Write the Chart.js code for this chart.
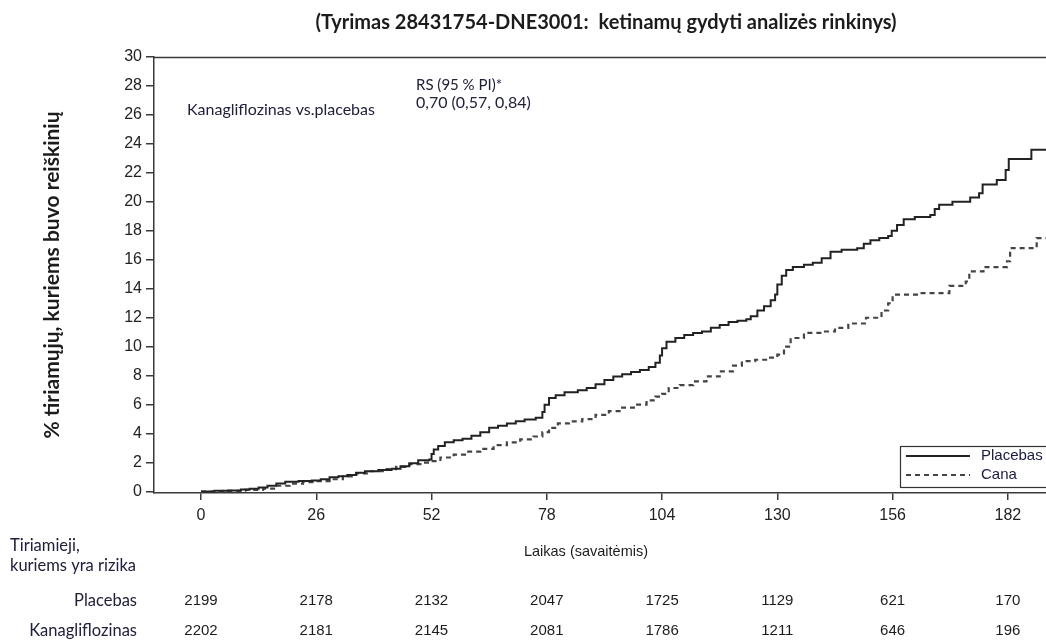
<!DOCTYPE html>
<html lang="lt">
<head>
<meta charset="utf-8">
<script src="https://cdn.jsdelivr.net/npm/chart.js@4"></script>
<style>
  html, body { margin: 0; padding: 0; background: #ffffff; }
  #wrap { width: 1046px; height: 641px; position: relative; }
  canvas { display: block; }
</style>
</head>
<body>
<div id="wrap"><canvas id="km" width="1046" height="641"></canvas></div>
<script>
// Cumulative incidence (%) over time (weeks), step curves
const placeboWeeks = [0, 3, 6, 9, 11, 13, 15, 17, 19, 22, 25, 27, 29, 31, 33, 35, 37, 40, 43, 45, 47, 49, 51.5, 52, 52.5, 53.5, 55, 57, 59, 61, 63, 65, 67, 69, 71, 73, 75.5, 77, 77.5, 78.5, 80, 82, 85, 87, 89, 91, 93, 95, 97, 99, 101, 102.5, 103.5, 104, 105, 107, 109, 111, 113, 115, 117, 119, 121, 123, 124, 125.5, 127, 128.5, 129.5, 130, 131, 132, 133.5, 136, 138, 140, 142, 144.5, 148, 149.5, 151, 153, 155, 155.8, 157, 158.5, 161, 164.5, 165.5, 166.5, 169.5, 173.5, 175.5, 176.3, 179.5, 181.5, 182.2, 187.3, 190.6];
const placeboPct = [0, 0.05, 0.08, 0.14, 0.2, 0.28, 0.4, 0.55, 0.67, 0.72, 0.76, 0.85, 0.98, 1.06, 1.15, 1.3, 1.4, 1.48, 1.57, 1.75, 1.95, 2.16, 2.22, 2.6, 2.9, 3.15, 3.4, 3.55, 3.65, 3.85, 4.1, 4.4, 4.55, 4.7, 4.85, 4.97, 5.1, 5.5, 6.0, 6.45, 6.65, 6.85, 7.0, 7.15, 7.4, 7.7, 7.95, 8.1, 8.25, 8.4, 8.6, 8.9, 9.4, 9.9, 10.35, 10.6, 10.8, 10.95, 11.05, 11.3, 11.5, 11.7, 11.8, 11.9, 12.1, 12.5, 12.8, 13.2, 13.6, 14.3, 14.9, 15.3, 15.5, 15.65, 15.8, 16.1, 16.55, 16.7, 16.8, 17.1, 17.35, 17.5, 17.65, 18.0, 18.4, 18.8, 18.95, 19.1, 19.5, 19.8, 20.0, 20.3, 20.6, 21.2, 21.5, 22.2, 22.95, 23.6, 23.6];

const canaWeeks = [0, 5, 10, 14, 17, 20, 23, 26, 29, 32, 35, 38, 41, 44, 47, 50, 52, 54, 57, 60, 63, 66, 69, 72, 75, 77, 78.5, 80.5, 83, 86, 89, 92, 95, 98, 100.5, 102.5, 104, 105.5, 108, 111, 114, 117, 120, 122, 125, 128, 130, 131.5, 133, 136, 140, 143, 146, 150, 153.5, 155, 156, 162, 168.8, 172.5, 173.3, 176.5, 181.8, 182.5, 188.5, 190.6];
const canaPct = [0, 0.05, 0.12, 0.2, 0.4, 0.55, 0.65, 0.72, 0.85, 1.05, 1.25, 1.4, 1.55, 1.7, 1.9, 2.0, 2.1, 2.35, 2.55, 2.75, 2.95, 3.2, 3.4, 3.6, 3.8, 4.1, 4.4, 4.7, 4.85, 5.0, 5.3, 5.55, 5.8, 6.0, 6.3, 6.55, 6.75, 7.15, 7.35, 7.6, 7.95, 8.3, 8.7, 9.0, 9.1, 9.25, 9.45, 10.0, 10.6, 10.95, 11.05, 11.3, 11.6, 12.0, 12.5, 13.0, 13.6, 13.7, 14.2, 14.5, 15.2, 15.5, 15.9, 16.8, 17.5, 17.5];

// Axis ticks
const xTickWeeks = [0, 26, 52, 78, 104, 130, 156, 182];
const yTickValues = [0, 2, 4, 6, 8, 10, 12, 14, 16, 18, 20, 22, 24, 26, 28, 30];

// Number at risk at each tick week
const atRiskPlacebo = [2199, 2178, 2132, 2047, 1725, 1129, 621, 170];
const atRiskCana = [2202, 2181, 2145, 2081, 1786, 1211, 646, 196];

// Texts
const titleText = '(Tyrimas 28431754-DNE3001:  ketinamų gydyti analizės rinkinys)';
const yTitleText = '% tiriamųjų, kuriems buvo reiškinių';
const xTitleText = 'Laikas (savaitėmis)';
const comparisonText = 'Kanagliflozinas vs.placebas';
const hrHeader = 'RS (95 % PI)*';
const hrValue = '0,70 (0,57, 0,84)';
const riskHeader = ['Tiriamieji,', 'kuriems yra rizika'];
const seriesNames = ['Placebas', 'Cana'];
const riskRowNames = ['Placebas', 'Kanagliflozinas'];

const toPoints = (xs, ys) => xs.map((x, i) => ({ x: x, y: ys[i] }));

const AXIS = '#3a3a3a';
const INK = '#1c1c1c';

const decorations = {
  id: 'decorations',
  afterDraw(chart) {
    const ctx = chart.ctx;
    const area = chart.chartArea;
    const xs = chart.scales.x;
    ctx.save();

    // top frame line
    ctx.strokeStyle = AXIS;
    ctx.lineWidth = 1.5;
    ctx.beginPath();
    ctx.moveTo(area.left, area.top + 0.5);
    ctx.lineTo(chart.width, area.top + 0.5);
    ctx.stroke();

    // title
    ctx.fillStyle = INK;
    ctx.textBaseline = 'middle';
    ctx.textAlign = 'center';
    ctx.font = 'bold 20px Lato';
    ctx.fillText(titleText, 606, 23);

    // y-axis title
    ctx.save();
    ctx.translate(52, 275);
    ctx.rotate(-Math.PI / 2);
    ctx.font = 'bold 21px Lato';
    ctx.fillText(yTitleText, 0, 0);
    ctx.restore();

    // in-plot annotations
    ctx.textAlign = 'left';
    ctx.fillStyle = '#20203a';
    ctx.font = '16px Lato';
    ctx.fillText(comparisonText, 187, 110);
    ctx.font = '15px Lato';
    ctx.fillText(hrHeader, 416, 85);
    ctx.font = '16px Lato';
    ctx.fillText(hrValue, 416, 103);

    // legend box
    const ds = chart.data.datasets;
    ctx.strokeStyle = '#333333';
    ctx.lineWidth = 1.2;
    ctx.strokeRect(900.5, 446.5, 160, 41);
    const legendRows = [456, 475];
    legendRows.forEach((ly, i) => {
      ctx.save();
      ctx.strokeStyle = ds[i].borderColor;
      ctx.lineWidth = ds[i].borderWidth;
      ctx.setLineDash(ds[i].borderDash || []);
      ctx.beginPath();
      ctx.moveTo(906, ly);
      ctx.lineTo(970, ly);
      ctx.stroke();
      ctx.restore();
      ctx.fillStyle = '#1a1a40';
      ctx.font = '15px "Liberation Sans"';
      ctx.textAlign = 'left';
      ctx.fillText(seriesNames[i], 981, ly);
    });

    // x-axis title
    ctx.fillStyle = INK;
    ctx.textAlign = 'center';
    ctx.font = '14.5px "Liberation Sans"';
    ctx.fillText(xTitleText, 586, 552);

    // number-at-risk table
    ctx.textAlign = 'left';
    ctx.font = '16.5px Lato';
    ctx.fillStyle = '#20203a';
    ctx.fillText(riskHeader[0], 10, 546);
    ctx.fillText(riskHeader[1], 10, 566);
    ctx.textAlign = 'right';
    ctx.fillText(riskRowNames[0], 137, 601);
    ctx.fillText(riskRowNames[1], 137, 631);

    ctx.textAlign = 'center';
    ctx.font = '15px "Liberation Sans"';
    ctx.fillStyle = INK;
    xTickWeeks.forEach((w, i) => {
      const px = xs.getPixelForValue(w);
      ctx.fillText(String(atRiskPlacebo[i]), px, 601);
      ctx.fillText(String(atRiskCana[i]), px, 631);
    });

    ctx.restore();
  }
};

new Chart(document.getElementById('km'), {
  type: 'line',
  data: {
    datasets: [
      {
        label: seriesNames[0],
        data: toPoints(placeboWeeks, placeboPct),
        borderColor: '#222222',
        borderWidth: 2,
        stepped: true,
        pointRadius: 0,
        fill: false
      },
      {
        label: seriesNames[1],
        data: toPoints(canaWeeks, canaPct),
        borderColor: '#444444',
        borderWidth: 2.2,
        borderDash: [5, 4],
        stepped: true,
        pointRadius: 0,
        fill: false
      }
    ]
  },
  options: {
    responsive: false,
    animation: false,
    devicePixelRatio: 1,
    layout: { padding: { top: 57, left: 0, right: 0, bottom: 0 } },
    plugins: {
      legend: { display: false },
      tooltip: { enabled: false },
      title: { display: false }
    },
    scales: {
      x: {
        type: 'linear',
        min: -10.6,
        max: 190.6,
        afterBuildTicks: (s) => { s.ticks = xTickWeeks.map(v => ({ value: v })); },
        afterFit: (s) => { s.height = 148; },
        grid: { display: true, drawOnChartArea: false, drawTicks: true, tickLength: 7, color: AXIS, lineWidth: 1.5 },
        border: { display: true, color: AXIS, width: 1.5 },
        ticks: {
          autoSkip: false,
          maxRotation: 0,
          padding: 6,
          color: '#222222',
          font: { family: '"Liberation Sans"', size: 16 },
          callback: (v) => String(v)
        }
      },
      y: {
        type: 'linear',
        min: -0.1,
        max: 30,
        afterBuildTicks: (s) => { s.ticks = yTickValues.map(v => ({ value: v })); },
        afterFit: (s) => { s.width = 154; },
        grid: { display: true, drawOnChartArea: false, drawTicks: true, tickLength: 8, color: AXIS, lineWidth: 1.5 },
        border: { display: true, color: AXIS, width: 1.5 },
        ticks: {
          padding: 4,
          color: '#222222',
          font: { family: '"Liberation Sans"', size: 16 },
          callback: (v) => String(v)
        }
      }
    }
  },
  plugins: [decorations]
});
</script>
</body>
</html>
